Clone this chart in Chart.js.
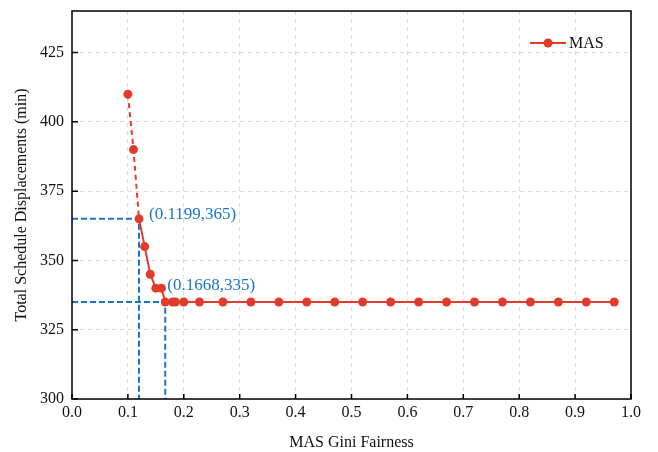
<!DOCTYPE html>
<html>
<head>
<meta charset="utf-8">
<script src="https://cdn.jsdelivr.net/npm/chart.js@4.4.1/dist/chart.umd.min.js"></script>
<style>
  html, body { margin: 0; padding: 0; background: #fff; }
  #wrap { width: 658px; height: 452px; }
</style>
</head>
<body>
<div id="wrap"><canvas id="chart" width="658" height="452"></canvas></div>
<script>
const gini = [0.10, 0.11, 0.1199, 0.13, 0.14, 0.15, 0.16, 0.1668, 0.18, 0.185, 0.20, 0.228,
    0.27, 0.32, 0.37, 0.42, 0.47, 0.52, 0.57, 0.62, 0.67, 0.72, 0.77, 0.82, 0.87, 0.92, 0.97];
const displacement = [410, 390, 365, 355, 345, 340, 340, 335, 335, 335, 335, 335,
    335, 335, 335, 335, 335, 335, 335, 335, 335, 335, 335, 335, 335, 335, 335];

const marked = [[0.1199, 365], [0.1668, 335]];
const markedLabels = ["(0.1199,365)", "(0.1668,335)"];

const red = "#e23b2c";
const blue = "#1a75c9";
const serif = "'Liberation Serif', 'Times New Roman', serif";

const masPoints = gini.map((g, i) => ({ x: g, y: displacement[i] }));

const guideSets = marked.map(([mx, my]) => ({
    label: "guide",
    data: [{ x: 0, y: my }, { x: mx, y: my }, { x: mx, y: 300 }],
    borderColor: blue,
    borderWidth: 2,
    borderDash: [6, 3],
    pointRadius: 0,
    fill: false,
    order: 2
}));

const frameAndLabels = {
    id: "frameAndLabels",
    afterDraw(chart) {
        const ctx = chart.ctx;
        const area = chart.chartArea;
        const xs = chart.scales.x;
        const ys = chart.scales.y;
        ctx.save();

        // frame
        ctx.strokeStyle = "#000";
        ctx.lineWidth = 1.5;
        ctx.strokeRect(area.left, area.top, area.right - area.left, area.bottom - area.top);

        // inner ticks
        ctx.beginPath();
        xs.ticks.forEach(t => {
            const px = xs.getPixelForValue(t.value);
            ctx.moveTo(px, area.bottom);
            ctx.lineTo(px, area.bottom - 5);
        });
        ys.ticks.forEach(t => {
            const py = ys.getPixelForValue(t.value);
            ctx.moveTo(area.left, py);
            ctx.lineTo(area.left + 6, py);
        });
        ctx.stroke();

        // point labels
        ctx.fillStyle = blue;
        ctx.font = "17px " + serif;
        ctx.textBaseline = "middle";
        ctx.textAlign = "left";
        const offsets = [[10, -4], [2, -16]];
        marked.forEach(([mx, my], i) => {
            const px = xs.getPixelForValue(mx);
            const py = ys.getPixelForValue(my);
            ctx.fillText(markedLabels[i], px + offsets[i][0], py + offsets[i][1]);
        });

        // legend
        const ly = area.top + 32;
        const lx = area.right - 101;
        ctx.strokeStyle = red;
        ctx.lineWidth = 2;
        ctx.beginPath();
        ctx.moveTo(lx, ly);
        ctx.lineTo(lx + 36, ly);
        ctx.stroke();
        ctx.fillStyle = red;
        ctx.beginPath();
        ctx.arc(lx + 18, ly, 4.5, 0, Math.PI * 2);
        ctx.fill();
        ctx.fillStyle = "#111";
        ctx.font = "16px " + serif;
        ctx.fillText("MAS", lx + 39, ly + 1);

        ctx.restore();
    }
};

new Chart(document.getElementById("chart"), {
    type: "line",
    data: {
        datasets: [
            {
                label: "MAS",
                data: masPoints,
                borderColor: red,
                backgroundColor: red,
                borderWidth: 2,
                pointRadius: 4.5,
                pointHoverRadius: 4.5,
                pointBorderWidth: 0,
                fill: false,
                order: 1,
                segment: {
                    borderDash: c => c.p1.parsed.x <= 0.1199 ? [5, 4] : undefined
                }
            },
            ...guideSets
        ]
    },
    options: {
        responsive: false,
        animation: false,
        layout: { padding: { top: 11, right: 27, left: 12, bottom: 0 } },
        plugins: {
            legend: { display: false },
            tooltip: { enabled: false }
        },
        scales: {
            x: {
                type: "linear",
                min: 0,
                max: 1,
                ticks: {
                    stepSize: 0.1,
                    color: "#111",
                    font: { family: serif, size: 16 },
                    padding: 4,
                    maxRotation: 0,
                    callback: v => Number(v).toFixed(1)
                },
                grid: {
                    color: "#dcdcdc",
                    drawTicks: false
                },
                border: { display: false, dash: [4, 4] },
                title: {
                    display: true,
                    text: "MAS Gini Fairness",
                    color: "#111",
                    font: { family: serif, size: 16 },
                    padding: { top: 3, bottom: 0 }
                },
                afterFit: s => { s.height = 53; s.paddingLeft = 0; s.paddingRight = 0; }
            },
            y: {
                min: 300,
                max: 440,
                afterBuildTicks: s => { s.ticks = s.ticks.filter(t => t.value % 25 === 0); },
                ticks: {
                    stepSize: 25,
                    color: "#111",
                    font: { family: serif, size: 16 },
                    padding: 8
                },
                grid: {
                    color: "#dcdcdc",
                    drawTicks: false
                },
                border: { display: false, dash: [4, 4] },
                title: {
                    display: true,
                    text: "Total Schedule Displacements (min)",
                    color: "#111",
                    font: { family: serif, size: 16 },
                    padding: { top: 0, bottom: 6 }
                },
                afterFit: s => { s.width = 60; s.paddingTop = 0; s.paddingBottom = 0; }
            }
        }
    },
    plugins: [frameAndLabels]
});
</script>
</body>
</html>
